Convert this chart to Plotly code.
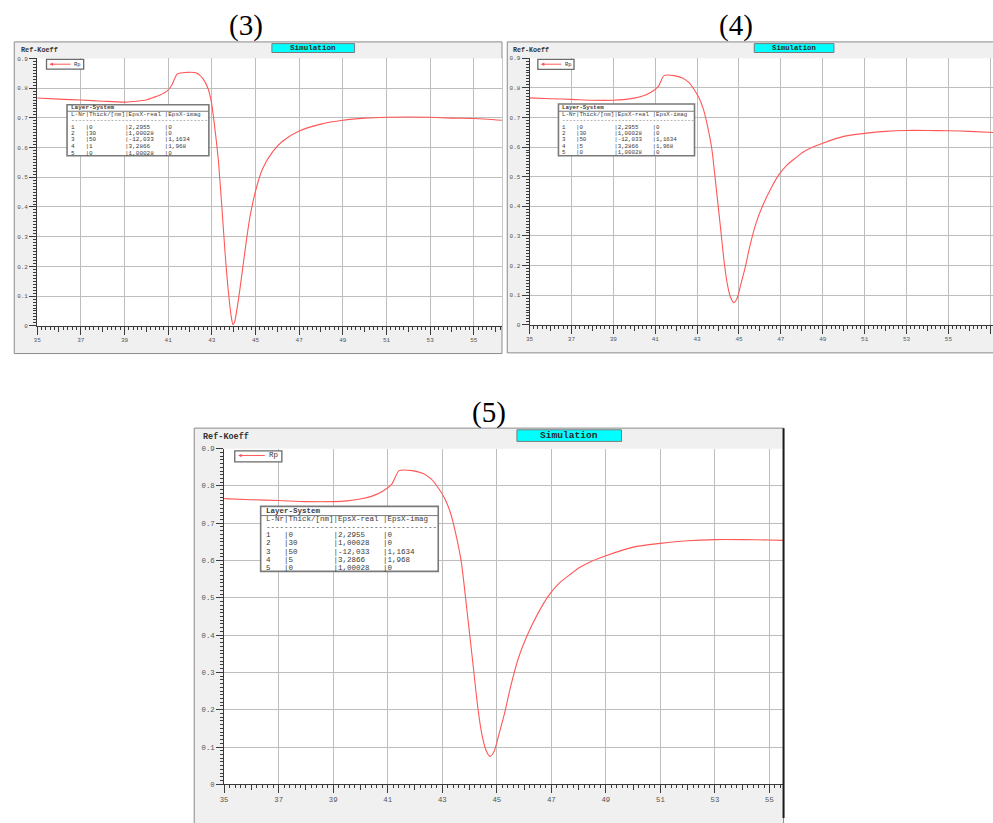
import plotly.graph_objects as go

W, H = 993, 823

# Reflectivity Rp versus angle of incidence (deg), layer 4 thickness 1 nm
theta_1nm = [35, 36, 37, 38, 39, 39.4, 40, 40.3, 40.6, 40.93, 41.16, 41.42, 41.84, 42.3,
             42.6, 42.83, 42.98, 43.14, 43.29, 43.44, 43.6, 43.75, 43.9, 43.97, 44.05,
             44.12, 44.28, 44.5, 44.74, 45.04, 45.34, 45.8, 46.25, 47, 48, 49, 50, 51,
             52, 53, 54, 55, 56.3]
rp_1nm = [0.767, 0.763, 0.760, 0.756, 0.753, 0.755, 0.760, 0.768, 0.776, 0.789, 0.809,
          0.848, 0.853, 0.851, 0.831, 0.798, 0.753, 0.664, 0.564, 0.420, 0.253, 0.120,
          0.026, 0.004, 0.015, 0.042, 0.120, 0.242, 0.364, 0.464, 0.531, 0.587, 0.622,
          0.656, 0.679, 0.692, 0.699, 0.702, 0.703, 0.702, 0.699, 0.698, 0.692]

# Reflectivity Rp versus angle of incidence (deg), layer 4 thickness 5 nm
theta_5nm = [35, 36, 37, 38, 39, 39.5, 40, 40.4, 40.8, 41.15, 41.42, 41.9, 42.3, 42.6,
             42.85, 43.1, 43.3, 43.5, 43.7, 43.9, 44.1, 44.3, 44.45, 44.6, 44.75, 44.9,
             45.1, 45.3, 45.5, 45.8, 46.15, 46.5, 46.9, 47.3, 47.75, 48, 48.5, 49, 50,
             51, 52, 53, 54, 55, 56, 57.2]
rp_5nm = [0.766, 0.763, 0.761, 0.758, 0.758, 0.760, 0.765, 0.772, 0.785, 0.805, 0.841,
          0.841, 0.833, 0.818, 0.795, 0.765, 0.728, 0.670, 0.595, 0.470, 0.340, 0.208,
          0.135, 0.092, 0.075, 0.088, 0.140, 0.195, 0.260, 0.340, 0.405, 0.457, 0.506,
          0.540, 0.566, 0.580, 0.599, 0.613, 0.636, 0.646, 0.653, 0.656, 0.656, 0.655,
          0.653, 0.649]

# Layer-System table
layer_nr = [1, 2, 3, 4, 5]
thick_1nm = [0, 30, 50, 1, 0]
thick_5nm = [0, 30, 50, 5, 0]
eps_real = ["2,2955", "1,00028", "-12,033", "3,2866", "1,00028"]
eps_imag = ["0", "0", "1,1634", "1,968", "0"]

panel_titles = ["(3)", "(4)", "(5)"]
x_major = list(range(35, 58, 2))
x_medium = list(range(36, 58, 2))

MONO = "Liberation Mono"
SERIF = "Liberation Serif"
CURVE = "#ff5757"
GRID = "#bdbdbd"
AXIS = "#3a3a3a"


def fx(p):
    return p / W


def fy(p):
    return 1 - p / H


# pixel geometry of each simulation window
panels = [
    dict(title=panel_titles[0], theta=theta_1nm, rp=rp_1nm, thick=thick_1nm,
         frame=(10.3, 39.3, 500, 354), plot=(33.3, 56, 500, 326), xmax=56.29,
         title_xy=(243, 23), sim=(269, 41, 352, 50), sim_fs=7.6,
         ref_xy=(15, 47), ref_fs=6.8, tick_fs=6,
         leg=(42.7, 57, 80, 66.7), leg_line=(45.7, 68.3, 61.8), rp_x=73.5, leg_fs=5.5,
         table=(63.3, 102.7, 205.7, 154.3), tab_x=65.7,
         tab_y=[106, 112.3, 119, 125.7, 132, 138.3, 145, 151.7], tab_fs=6, tab_sep=109.3),
    dict(title=panel_titles[1], theta=theta_5nm, rp=rp_5nm, thick=thick_5nm,
         frame=(505.3, 39.3, 996, 353.3), plot=(527.7, 55.7, 993, 325), xmax=57.13,
         title_xy=(734.5, 23), sim=(753.3, 41, 833.3, 50), sim_fs=7.3,
         ref_xy=(509.3, 47), ref_fs=6.7, tick_fs=6,
         leg=(536, 57, 572.3, 67), leg_line=(539, 561, 61.8), rp_x=566.7, leg_fs=5.5,
         table=(556.7, 102, 693.3, 154.3), tab_x=558.7,
         tab_y=[106, 112.3, 119, 125.3, 131.8, 138.3, 144.8, 151.3], tab_fs=5.8, tab_sep=109.3),
    dict(title=panel_titles[2], theta=theta_5nm, rp=rp_5nm, thick=thick_5nm,
         frame=(191, 429.3, 782.7, 830), plot=(221, 450, 782, 789), xmax=55.49,
         title_xy=(486.7, 414), sim=(515, 431, 620, 442.7), sim_fs=9.6,
         ref_xy=(197.3, 438.3), ref_fs=8.5, tick_fs=7.3,
         leg=(231.7, 452.3, 279, 463.3), leg_line=(235, 263.3, 456.9), rp_x=271, leg_fs=7.5,
         table=(257.7, 508.3, 436, 574), tab_x=261,
         tab_y=[513.3, 521, 529.3, 537.7, 545.7, 554, 562.3, 570.7], tab_fs=7.5, tab_sep=517.6),
]

fig = go.Figure()
shapes = []
annotations = []
layout = {}

for i, p in enumerate(panels, start=1):
    xa = "x" if i == 1 else f"x{i}"
    ya = "y" if i == 1 else f"y{i}"
    x0, y0, x1, y1 = p["plot"]

    fig.add_trace(go.Scatter(x=p["theta"], y=p["rp"], mode="lines",
                             line=dict(color=CURVE, width=1.1, shape="spline", smoothing=0.7),
                             xaxis=xa, yaxis=ya, showlegend=False, hoverinfo="skip"))
    # empty carrier trace for the medium-tick axis
    fig.add_trace(go.Scatter(x=[], y=[], xaxis=f"x{i + 3}", yaxis=ya,
                             showlegend=False, hoverinfo="skip"))

    xdom = [fx(x0), min(fx(x1), 1.0)]
    ydom = [fy(y1), fy(y0)]
    layout["xaxis" if i == 1 else f"xaxis{i}"] = dict(
        domain=xdom, range=[35, p["xmax"]], anchor=ya,
        tickmode="array", tickvals=x_major, ticktext=[str(v) for v in x_major],
        showgrid=True, gridcolor=GRID, gridwidth=1,
        ticks="outside", ticklen=8, tickwidth=1, tickcolor=AXIS,
        showline=True, linecolor=AXIS, linewidth=1, zeroline=False,
        minor=dict(dtick=0.2, tick0=35, ticks="outside", ticklen=3,
                   tickcolor=AXIS, showgrid=False),
        tickfont=dict(family=MONO, size=p["tick_fs"], color="#555555"),
        fixedrange=True)
    layout[f"xaxis{i + 3}"] = dict(
        domain=xdom, range=[35, p["xmax"]], anchor=ya, overlaying=xa, side="bottom",
        tickmode="array", tickvals=x_medium, showticklabels=False,
        ticks="outside", ticklen=5, tickwidth=1, tickcolor=AXIS,
        showgrid=False, showline=False, zeroline=False, fixedrange=True)
    layout["yaxis" if i == 1 else f"yaxis{i}"] = dict(
        domain=ydom, range=[0, 0.9], anchor=xa,
        dtick=0.1, tick0=0, showgrid=True, gridcolor=GRID, gridwidth=1,
        ticks="outside", ticklen=7, tickwidth=1, tickcolor=AXIS,
        showline=True, linecolor=AXIS, linewidth=1, zeroline=False,
        minor=dict(dtick=0.01, tick0=0, ticks="outside", ticklen=3,
                   tickcolor=AXIS, showgrid=False),
        tickfont=dict(family=MONO, size=p["tick_fs"], color="#555555"),
        fixedrange=True)

    # window frame and white plotting field
    fx0, fy0, fx1, fy1 = p["frame"]
    shapes.append(dict(type="rect", xref="paper", yref="paper", layer="below",
                       x0=fx(fx0), x1=fx(fx1), y0=fy(fy1), y1=fy(fy0),
                       fillcolor="#f0f0f0", line=dict(color="#8a8a8a", width=1)))
    shapes.append(dict(type="rect", xref="paper", yref="paper", layer="below",
                       x0=fx(x0), x1=fx(x1), y0=fy(y1), y1=fy(y0),
                       fillcolor="#ffffff", line=dict(width=0)))

    # panel number
    annotations.append(dict(text=p["title"], xref="paper", yref="paper",
                            x=fx(p["title_xy"][0]), y=fy(p["title_xy"][1]),
                            xanchor="center", yanchor="middle", showarrow=False,
                            font=dict(family=SERIF, size=29, color="#000000")))
    # header label
    annotations.append(dict(text="<b>Ref-Koeff</b>", xref="paper", yref="paper",
                            x=fx(p["ref_xy"][0]), y=fy(p["ref_xy"][1]),
                            xanchor="left", yanchor="middle", showarrow=False,
                            font=dict(family=MONO, size=p["ref_fs"], color="#333333")))
    # Simulation badge
    sx0, sy0, sx1, sy1 = p["sim"]
    shapes.append(dict(type="rect", xref="paper", yref="paper", layer="above",
                       x0=fx(sx0), x1=fx(sx1), y0=fy(sy1), y1=fy(sy0),
                       fillcolor="#00ffff", line=dict(color="#7a7a7a", width=1)))
    annotations.append(dict(text="<b>Simulation</b>", xref="paper", yref="paper",
                            x=fx((sx0 + sx1) / 2), y=fy((sy0 + sy1) / 2),
                            xanchor="center", yanchor="middle", showarrow=False,
                            font=dict(family=MONO, size=p["sim_fs"], color="#2a2a2a")))

    # legend box
    lx0, ly0, lx1, ly1 = p["leg"]
    shapes.append(dict(type="rect", xref="paper", yref="paper", layer="above",
                       x0=fx(lx0), x1=fx(lx1), y0=fy(ly1), y1=fy(ly0),
                       fillcolor="#ffffff", line=dict(color="#6a6a6a", width=1.3)))
    la, lb, lyy = p["leg_line"]
    annotations.append(dict(text="", xref="paper", yref="paper",
                            x=fx(la), y=fy(lyy), ax=lb - la, ay=0,
                            showarrow=True, arrowhead=2, arrowsize=0.7,
                            arrowwidth=1, arrowcolor=CURVE))
    annotations.append(dict(text="Rp", xref="paper", yref="paper",
                            x=fx(p["rp_x"]), y=fy(lyy), xanchor="center",
                            yanchor="middle", showarrow=False,
                            font=dict(family=MONO, size=p["leg_fs"], color="#333333")))

    # Layer-System table
    tx0, ty0, tx1, ty1 = p["table"]
    shapes.append(dict(type="rect", xref="paper", yref="paper", layer="above",
                       x0=fx(tx0), x1=fx(tx1), y0=fy(ty1), y1=fy(ty0),
                       fillcolor="#ffffff", line=dict(color="#7a7a7a", width=1.6)))
    shapes.append(dict(type="line", xref="paper", yref="paper", layer="above",
                       x0=fx(tx0), x1=fx(tx1), y0=fy(p["tab_sep"]), y1=fy(p["tab_sep"]),
                       line=dict(color="#7a7a7a", width=1)))
    rows = ["<b>Layer-System</b>",
            "L-Nr|Thick/[nm]|EpsX-real |EpsX-imag",
            "-" * 38]
    for nr, th, re_, im in zip(layer_nr, p["thick"], eps_real, eps_imag):
        rows.append(f"{nr:<4}|{th:<10}|{re_:<10}|{im}".replace(" ", "&nbsp;"))
    for txt, ty in zip(rows, p["tab_y"]):
        annotations.append(dict(text=txt, xref="paper", yref="paper",
                                x=fx(p["tab_x"]), y=fy(ty), xanchor="left",
                                yanchor="middle", showarrow=False,
                                font=dict(family=MONO, size=p["tab_fs"], color="#3a3a3a")))

# dark right edge of the lower window
shapes.append(dict(type="line", xref="paper", yref="paper", layer="above",
                   x0=fx(782.7), x1=fx(782.7), y0=0, y1=fy(429.3),
                   line=dict(color="#1a1a1a", width=2)))

fig.update_layout(
    width=W, height=H, autosize=False,
    margin=dict(l=0, r=0, t=0, b=0),
    paper_bgcolor="#ffffff", plot_bgcolor="rgba(0,0,0,0)",
    shapes=shapes, annotations=annotations, showlegend=False,
    **layout)

fig.write_html("out.html")
